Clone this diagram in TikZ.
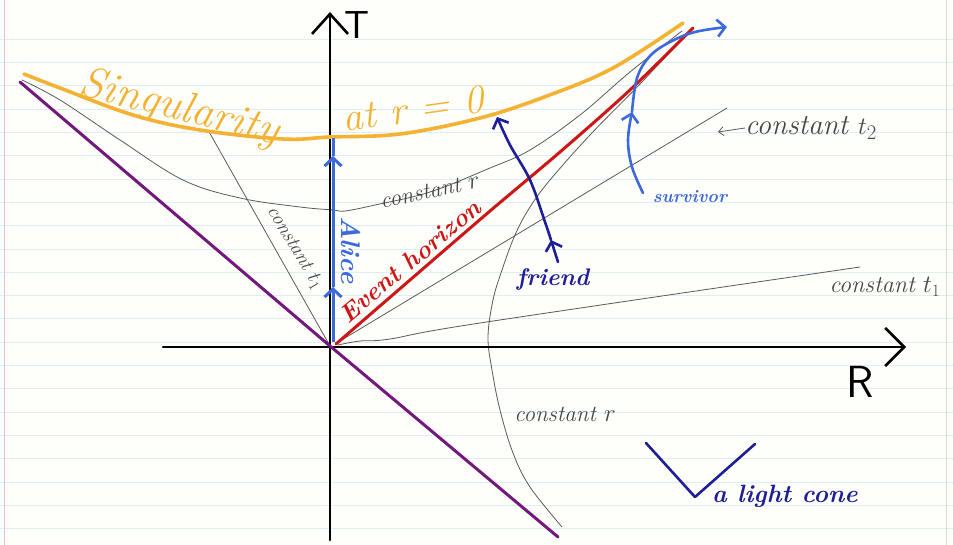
\documentclass[tikz,border=0pt]{standalone}
\usepackage{fontspec}
\usetikzlibrary{arrows.meta}
\definecolor{paper}{RGB}{254,254,250}
\definecolor{ruleblue}{RGB}{222,238,246}
\definecolor{marginpink}{RGB}{232,186,232}
\definecolor{sing}{RGB}{245,178,50}
\definecolor{horiz}{RGB}{205,22,22}
\definecolor{anti}{RGB}{115,25,125}
\definecolor{alice}{RGB}{60,105,220}
\definecolor{navy}{RGB}{30,30,150}
\definecolor{pencil}{RGB}{90,90,90}
\definecolor{penciltext}{RGB}{70,70,70}
\newcommand{\fsz}[1]{\fontsize{#1}{#1}\selectfont}
\begin{document}
\begin{tikzpicture}[x=1pt,y=-1pt,
  axisline/.style={line width=2.6pt,black,line cap=round,line join=round},
  pencurve/.style={pencil,line width=0.8pt},
  handtext/.style={inner sep=0pt,outer sep=0pt},
  graytext/.style={handtext,text=penciltext,font=\itshape\fsz{#1}},
  chev/.style={-{Straight Barb[length=8pt,width=17pt]}}
]
% paper
\useasboundingbox (0,0) rectangle (953,545);
\fill[paper] (0,0) rectangle (953,545);
\foreach \k in {-8,...,13}
  \draw[ruleblue,line width=0.8pt] (0,{342.2-23.3*\k}) -- (953,{342.2-23.3*\k});
\draw[marginpink,line width=0.8pt] (4,0) -- (4,545);
\draw[black!15,line width=0.8pt] (946,0) -- (946,545);

% coordinates
\coordinate (O) at (330,346);
\coordinate (Tbot) at (330,540);
\coordinate (Ttop) at (330,12);
\coordinate (Rleft) at (163,347);
\coordinate (Rright) at (906,347);

% grey curves
\draw[pencurve] plot[smooth,tension=0.6] coordinates {(22,80) (60,100) (120,140) (183,180) (240,198) (300,207) (333,210) (345,211) (375,205) (430,192) (490,168) (530,150) (580,115) (630,72) (682,31)};
\draw[pencurve] plot[smooth,tension=0.6] coordinates {(562,527) (530,487) (513,453) (500,410) (492,370) (488,337) (493,300) (502,270) (515,235) (530,207) (550,180) (590,135) (640,84) (685,36)};
\coordinate (t3end) at (208,130);
\draw[pencurve] (O) -- (t3end);
\coordinate (t2end) at (727,108);
\draw[pencurve] (335,344) -- (t2end);
\coordinate (t1end) at (860,267);
\draw[pencurve] plot[smooth,tension=0.6] coordinates {(338,345) (360,341) (390,339) (480,323) (t1end)};

% axes
\draw[axisline,-{Straight Barb[length=20pt,width=36pt]}] (Tbot) -- (Ttop);
\draw[axisline,-{Straight Barb[length=19pt,width=38pt]}] (Rleft) -- (Rright);
\node[handtext,font=\sffamily\fsz{39}] (Tlab) at (357,25) {T};
\node[handtext,font=\sffamily\fsz{45}] (Rlab) at (860,382) {R};

% anti-horizon (purple)
\coordinate (Ptop) at (20,82);
\coordinate (Pbot) at (558,537);
\draw[anti,line width=3pt,line cap=round] (Ptop) -- (O) -- (Pbot);

% singularity
\draw[sing,line width=3.6pt,line cap=round] plot[smooth,tension=0.6] coordinates {(24,74) (60,88) (133,115) (200,130) (283,139) (330,137) (400,134) (480,118) (547,96) (613,68) (683,23)};
\node[handtext,text=sing,font=\itshape\fsz{44},rotate=-14] (singlab) at (179,109) {Singularity};
\node[handtext,text=sing,font=\itshape\fsz{40},rotate=8] (atlab) at (413,109) {at r = 0};

% event horizon
\coordinate (Hstart) at (336,344);
\coordinate (Hend) at (693,28);
\draw[horiz,line width=3pt,line cap=round] plot[smooth,tension=0.5] coordinates {(Hstart) (410,280) (490,211) (560,152) (630,90) (Hend)};
\node[handtext,text=horiz,font=\bfseries\itshape\fsz{25},rotate=40] (EHlab) at (410,261) {Event horizon};

% Alice
\coordinate (Astart) at (333,342);
\coordinate (Amid) at (333,287);
\coordinate (Aend) at (333,156);
\coordinate (Atop) at (333,138);
\draw[alice,line width=3pt,chev] (Astart) -- (Amid);
\draw[alice,line width=3pt,chev] (Amid) -- (Aend);
\draw[alice,line width=3pt] (Aend) -- (Atop);
\node[handtext,text=alice,font=\bfseries\itshape\fsz{27},rotate=-90] (alicelab) at (351,250) {Alice};

% friend
\coordinate (Fstart) at (558,262);
\coordinate (Fmid) at (551,240);
\coordinate (Fend) at (497,117);
\draw[navy,line width=2.6pt,line cap=round,chev] (Fstart) -- (Fmid);
\draw[navy,line width=2.6pt,line cap=round,chev] plot[smooth,tension=0.6] coordinates {(Fmid) (545,222) (530,180) (510,145) (Fend)};
\node[handtext,text=navy,font=\bfseries\itshape\fsz{24}] (friendlab) at (553,280) {friend};

% survivor
\coordinate (Sstart) at (643,193);
\coordinate (Smid) at (632,112);
\coordinate (Send) at (727,27);
\draw[alice,line width=2.6pt,line cap=round,chev] plot[smooth,tension=0.6] coordinates {(Sstart) (632,167) (628,140) (Smid)};
\draw[alice,line width=2.6pt,line cap=round,chev] plot[smooth,tension=0.6] coordinates {(Smid) (637,78) (650,56) (670,42) (695,32) (Send)};
\node[handtext,text=alice,font=\bfseries\itshape\fsz{18}] (survlab) at (690,197) {survivor};

% grey labels
\node[graytext=23,rotate=12] (rlabup) at (430,191) {constant $r$};
\node[graytext=20,rotate=-59] (t3lab) at (295,248) {constant $t_1$};
\node[graytext=29,anchor=west] (t2lab) at (745,128) {constant $t_2$};
\draw[pencil,line width=0.8pt,-{Straight Barb[length=5pt,width=9pt]}] (t2lab.west) -- ++(-27,4);
\node[graytext=24] (t1lab) at (885,287) {constant $t_1$};
\node[graytext=23] (rlablow) at (565,414) {constant $r$};

% light cone
\coordinate (LCl) at (646,443);
\coordinate (LCv) at (695,497);
\coordinate (LCr) at (755,444);
\draw[navy,line width=2.6pt,line cap=round,line join=round] (LCl) -- (LCv) -- (LCr);
\node[handtext,text=navy,font=\bfseries\itshape\fsz{25},anchor=west] (lclab) at (712,496) {a light cone};
\end{tikzpicture}
\end{document}
